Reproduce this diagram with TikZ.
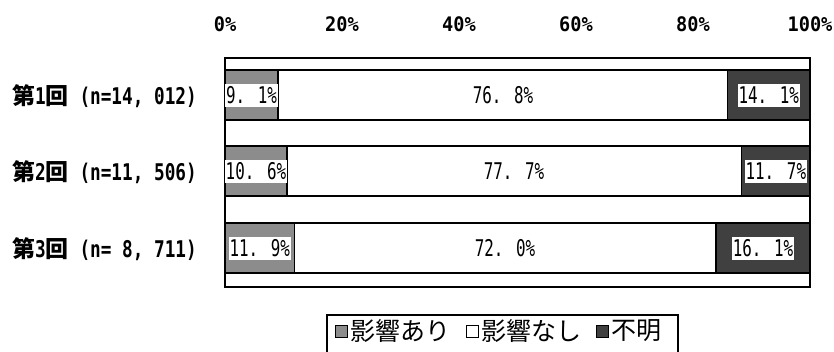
\documentclass[tikz,border=0pt]{standalone}
\usepackage{fontspec}
\newfontfamily\jp{Noto Sans CJK JP}
\newfontfamily\monoax[FakeStretch=0.93]{DejaVu Sans Mono}
\newfontfamily\monorow[FakeStretch=0.77]{DejaVu Sans Mono}
\newfontfamily\monoval[FakeStretch=0.69]{DejaVu Sans Mono}
\usetikzlibrary{positioning}
\begin{document}
\begin{tikzpicture}[x=1pt,y=-1pt]
\tikzset{
 axlab/.style={font=\monoax\bfseries\fontsize{20}{20}\selectfont, anchor=center, inner sep=0pt, text height=14.6pt, text depth=0pt},
 rowlab/.style={font=\monorow\bfseries\fontsize{23}{23}\selectfont, anchor=east, inner sep=0pt, text height=16.8pt, text depth=0pt},
 seg/.style={draw=black, line width=1.5pt},
 yesseg/.style={seg, fill=black!45},
 noseg/.style={seg, fill=white},
 unkseg/.style={seg, fill=black!75},
 plainval/.style={font=\monoval\fontsize{23}{23}\selectfont, inner xsep=1pt, inner ysep=3pt, text height=16.8pt, text depth=0pt},
 val/.style={plainval, fill=white},
 frameline/.style={draw=black, line width=1.8pt},
 legtext/.style={font=\jp\fontsize{25}{25}\selectfont, inner sep=0pt},
 legsq/.style={draw=black, line width=0.6pt, minimum size=12pt, inner sep=0pt},
}
\useasboundingbox (0,0) rectangle (834,351);
\fill[white] (0,0) rectangle (834,351);
% axis labels
\foreach \p/\n in {0/0,20/1,40/2,60/3,80/4,100/5}{
  \node[axlab] (ax\n) at ({225+5.85*\p},24.5) {\p\%};
}
% frame
\draw[frameline] (225,58) rectangle (810,287);
% bar 1
\draw[yesseg] (225,70) rectangle (278,120);
\draw[noseg] (278,70) rectangle (727.5,120);
\draw[unkseg] (727.5,70) rectangle (810,120);
% bar 2
\draw[yesseg] (225,146) rectangle (287,196);
\draw[noseg] (287,146) rectangle (741.5,196);
\draw[unkseg] (741.5,146) rectangle (810,196);
% bar 3
\draw[yesseg] (225,223) rectangle (294.5,273);
\draw[noseg] (294.5,223) rectangle (716,273);
\draw[unkseg] (716,223) rectangle (810,273);
% values
\node[val] (v11) at (251.5,95.5) {9. 1\%};
\node[plainval] (v12) at (503,95.5) {76. 8\%};
\node[val] (v13) at (768.8,95.5) {14. 1\%};
\node[val] (v21) at (256,171.5) {10. 6\%};
\node[plainval] (v22) at (514,171.5) {77. 7\%};
\node[val] (v23) at (775.8,171.5) {11. 7\%};
\node[val] (v31) at (259.8,248.5) {11. 9\%};
\node[plainval] (v32) at (505,248.5) {72. 0\%};
\node[val] (v33) at (763,248.5) {16. 1\%};
% row labels
\node[rowlab] (r1) at (197,96.5) {{\jp\bfseries 第}1{\jp\bfseries 回} (n=14, 012)};
\node[rowlab] (r2) at (197,172.5) {{\jp\bfseries 第}2{\jp\bfseries 回} (n=11, 506)};
\node[rowlab] (r3) at (197,249.5) {{\jp\bfseries 第}3{\jp\bfseries 回} (n= 8, 711)};
% legend
\draw[draw=black, line width=1.4pt] (327,360) |- (678,315) -- (678,360);
\node[legsq, fill=black!45] (s1) at (341,331) {};
\node[legtext, right=3pt of s1] (l1) {影響あり};
\node[legsq, fill=white, right=15pt of l1] (s2) {};
\node[legtext, right=3pt of s2] (l2) {影響なし};
\node[legsq, fill=black!75, right=14pt of l2] (s3) {};
\node[legtext, right=3pt of s3] (l3) {不明};
\end{tikzpicture}
\end{document}
